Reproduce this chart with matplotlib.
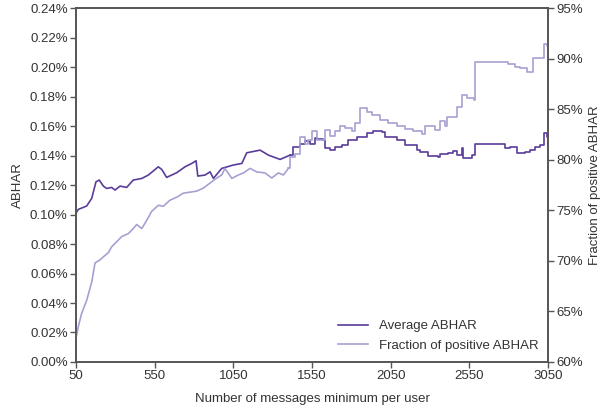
import matplotlib
matplotlib.use("Agg")
import matplotlib.pyplot as plt
from matplotlib.ticker import PercentFormatter

# average ABHAR (in %) vs minimum messages per user
avg_x = [50, 65, 118, 150, 177, 198, 224, 245, 277, 298, 330, 372, 414, 468, 510,
         573, 595, 626, 690, 743, 786, 813, 824, 870, 902, 923, 976, 1050, 1104,
         1135, 1220, 1273, 1347, 1410, 1431, 1474, 1505, 1537, 1569, 1580, 1622,
         1633, 1664, 1696, 1739, 1781, 1834, 1898, 1940, 1993, 2014, 2088, 2141,
         2215, 2236, 2289, 2353, 2364, 2416, 2448, 2470, 2502, 2512, 2544, 2565,
         2586, 2777, 2809, 2851, 2904, 2936, 2968, 3000, 3025, 3042, 3050]
avg_y = [0.101, 0.1035, 0.1058, 0.111, 0.1222, 0.1234, 0.1193, 0.1177, 0.1184,
         0.1166, 0.1193, 0.1184, 0.1234, 0.1245, 0.1268, 0.1324, 0.1306, 0.1252,
         0.1284, 0.1324, 0.1347, 0.1365, 0.1261, 0.1268, 0.129, 0.1245, 0.1313,
         0.1336, 0.1347, 0.1419, 0.1437, 0.1403, 0.1374, 0.1403, 0.146, 0.1482,
         0.150, 0.148, 0.1516, 0.151, 0.1505, 0.1449, 0.1437, 0.146, 0.1471,
         0.1505, 0.1527, 0.1555, 0.1568, 0.1561, 0.1523, 0.1505, 0.1471, 0.1437,
         0.1426, 0.1397, 0.1388, 0.141, 0.1415, 0.1433, 0.1403, 0.1449, 0.1381,
         0.1385, 0.1403, 0.1478, 0.1449, 0.1456, 0.1419, 0.1426, 0.1437, 0.146,
         0.1471, 0.155, 0.1527, 0.146]

# fraction of users with positive ABHAR (in %)
frac_x = [50, 65, 86, 118, 150, 171, 203, 224, 255, 277, 309, 340, 383, 414, 436,
          468, 499, 531, 573, 605, 647, 690, 732, 775, 817, 859, 902, 945, 976,
          997, 1040, 1082, 1114, 1156, 1199, 1251, 1294, 1336, 1368, 1400, 1410,
          1442, 1474, 1505, 1526, 1548, 1580, 1633, 1664, 1696, 1728, 1760, 1802,
          1823, 1855, 1898, 1929, 1982, 2035, 2088, 2141, 2194, 2247, 2268, 2332,
          2364, 2395, 2406, 2470, 2502, 2533, 2576, 2586, 2798, 2840, 2872, 2914,
          2957, 3025, 3042, 3050]
frac_y = [62.3, 63.5, 64.8, 66.1, 67.9, 69.8, 70.1, 70.4, 70.8, 71.4, 71.9, 72.4,
          72.7, 73.2, 73.6, 73.2, 74.0, 74.9, 75.5, 75.4, 76.0, 76.3, 76.7, 76.8,
          76.9, 77.2, 77.7, 78.2, 78.5, 79.15, 78.16, 78.5, 78.7, 79.15, 78.8,
          78.7, 78.2, 78.7, 78.5, 79.15, 80.3, 80.6, 82.3, 81.6, 81.95, 82.8, 82.0,
          82.9, 82.4, 82.8, 83.3, 83.1, 82.8, 83.6, 85.1, 84.75, 84.4, 83.9, 83.6,
          83.3, 83.0, 82.8, 82.6, 83.3, 82.9, 83.8, 83.3, 84.25, 85.2, 86.4, 86.1,
          85.9, 89.7, 89.5, 89.2, 89.1, 88.7, 90.1, 91.5, 91.3, 91.0]

x_ticks = [50, 550, 1050, 1550, 2050, 2550, 3050]
# below this the curves look continuous, above it they move in steps
step_from = 1400

plt.rcParams['font.family'] = ['Liberation Sans', 'DejaVu Sans']
plt.rcParams['font.size'] = 9.5
txt = '#333333'
spine = '#555555'
dark = '#5a3c99'
light = '#a5a1d2'


def draw(ax, xs, ys, color, label):
    k = next(i for i, v in enumerate(xs) if v >= step_from)
    line, = ax.plot(xs[:k + 1], ys[:k + 1], color=color, lw=1.2, label=label)
    ax.plot(xs[k:], ys[k:], color=color, lw=1.2, drawstyle='steps-post')
    return line


fig = plt.figure(figsize=(6.03, 4.09), dpi=100)
ax1 = fig.add_subplot(111)
fig.subplots_adjust(left=0.126, right=0.909, bottom=0.115, top=0.980)
ax2 = ax1.twinx()

l1 = draw(ax1, avg_x, avg_y, dark, 'Average ABHAR')
l2 = draw(ax2, frac_x, frac_y, light, 'Fraction of positive ABHAR')

ax1.set_xlim(50, 3050)
ax1.set_xticks(x_ticks)
ax1.set_ylim(0, 0.24)
ax1.set_yticks([i * 0.02 for i in range(13)])
ax1.yaxis.set_major_formatter(PercentFormatter(xmax=100, decimals=2))
ax2.set_ylim(60, 95)
ax2.set_yticks(range(60, 96, 5))
ax2.yaxis.set_major_formatter(PercentFormatter(xmax=100, decimals=0))

ax1.set_xlabel('Number of messages minimum per user', color=txt, labelpad=8)
ax1.set_ylabel('ABHAR', color=txt, labelpad=4)
ax2.set_ylabel('Fraction of positive ABHAR', color=txt, labelpad=4)

for ax in (ax1, ax2):
    for s in ax.spines.values():
        s.set_color(spine)
        s.set_linewidth(1.2)
    ax.tick_params(colors=txt, length=4, width=1, color=spine, pad=2)

leg = ax1.legend(handles=[l1, l2], loc='lower right', frameon=False,
                 bbox_to_anchor=(1.005, -0.005), handlelength=2.3,
                 labelspacing=0.55)
for t in leg.get_texts():
    t.set_color(txt)

fig.savefig('out.png', dpi=100)
